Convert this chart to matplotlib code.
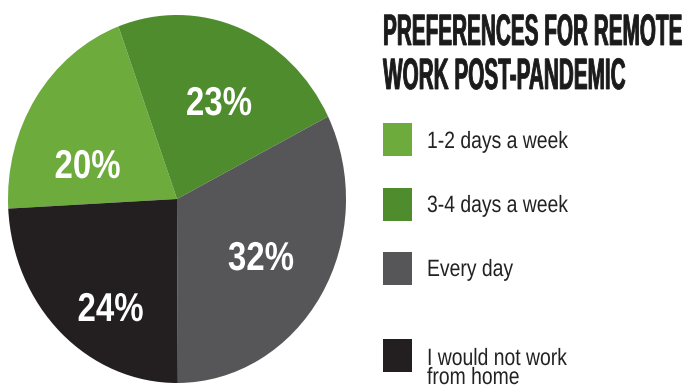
import matplotlib
matplotlib.use("Agg")
import matplotlib.pyplot as plt
from matplotlib.patches import Rectangle
from matplotlib.patheffects import AbstractPathEffect
from matplotlib.transforms import Affine2D
from matplotlib import font_manager as fm

# ---- data ----
categories = ["1-2 days a week", "3-4 days a week", "Every day", "I would not work\nfrom home"]
values = [20, 23, 32, 24]
colors = ["#6cab3c", "#4e8c2d", "#565658", "#231e20"]
title_lines = ["PREFERENCES FOR REMOTE", "WORK POST-PANDEMIC"]

# ---- fonts ----
names = {f.name for f in fm.fontManager.ttflist}
HAS_NARROW = "Liberation Sans Narrow" in names
NARROW = "Liberation Sans Narrow" if HAS_NARROW else "Liberation Sans"
NX = 1.0 if HAS_NARROW else 0.82   # horizontal compression emulating a narrow face


class Stretch(AbstractPathEffect):
    """Scale glyph outlines vertically about the text's baseline origin,
    optionally thickening them with an outline of the same colour."""
    def __init__(self, sy=1.0, lw=0.0):
        super().__init__()
        self.sy = sy
        self.lw = lw

    def draw_path(self, renderer, gc, tpath, affine, rgbFace=None):
        x0, y0 = affine.transform((0, 0))
        aff = affine + Affine2D().translate(-x0, -y0).scale(1.0, self.sy).translate(x0, y0)
        if self.lw > 0 and rgbFace is not None:
            gc0 = renderer.new_gc()
            gc0.copy_properties(gc)
            gc0.set_linewidth(self.lw)
            gc0.set_foreground(rgbFace)
            gc0.set_joinstyle("miter")
            renderer.draw_path(gc0, tpath, aff, rgbFace)
            gc0.restore()
        else:
            renderer.draw_path(gc, tpath, aff, rgbFace)


W, H = 694, 387
fig = plt.figure(figsize=(W / 100, H / 100), dpi=100)
fig.patch.set_facecolor("white")

# ---- pie (slightly elliptical) ----
left, right, top, bottom = 8, 346, 15, 383
ax = fig.add_axes([left / W, (H - bottom) / H, (right - left) / W, (bottom - top) / H])
wedges, _ = ax.pie(values, colors=colors, startangle=183, counterclock=False,
                   wedgeprops=dict(linewidth=0))
ax.set_aspect("auto")
ax.set_xlim(-1, 1)
ax.set_ylim(-1, 1)
ax.axis("off")

# label anchors (pixel baseline-centre in the reference) -> axes data coords
label_px = [(87.5, 178), (219, 115), (261, 270), (110.5, 321)]
cx, cy = (left + right) / 2, (top + bottom) / 2
rx, ry = (right - left) / 2, (bottom - top) / 2
for v, (px, py) in zip(values, label_px):
    ax.text((px - cx) / rx, (cy - py) / ry, f"{v}%", ha="center", va="baseline",
            color="white", fontsize=29 * NX, fontweight="bold", family=NARROW,
            path_effects=[Stretch(1.0 / NX)])

# ---- title + legend (pixel-space overlay) ----
ov = fig.add_axes([0, 0, 1, 1])
ov.set_xlim(0, W)
ov.set_ylim(H, 0)
ov.axis("off")
ov.patch.set_alpha(0)

for line, base in zip(title_lines, [45, 89]):
    ov.text(383, base, line, ha="left", va="baseline", fontsize=18.2 * NX,
            fontweight="bold", family=NARROW, color="#1b1b1b",
            path_effects=[Stretch(1.74 / NX, lw=0.6)])

sq_top = [123, 188, 252, 339]
txt_base = [148, 212, 276, 365]
for cat, col, t, b in zip(categories, colors, sq_top, txt_base):
    ov.add_patch(Rectangle((383, t), 29, 33, facecolor=col, edgecolor="none"))
    for i, ln in enumerate(cat.split("\n")):
        ov.text(427, b + i * 19, ln, ha="left", va="baseline", fontsize=17 * NX,
                family=NARROW, color="#222222", path_effects=[Stretch(1.0 / NX)])

fig.savefig("out.png", dpi=100, facecolor="white")
